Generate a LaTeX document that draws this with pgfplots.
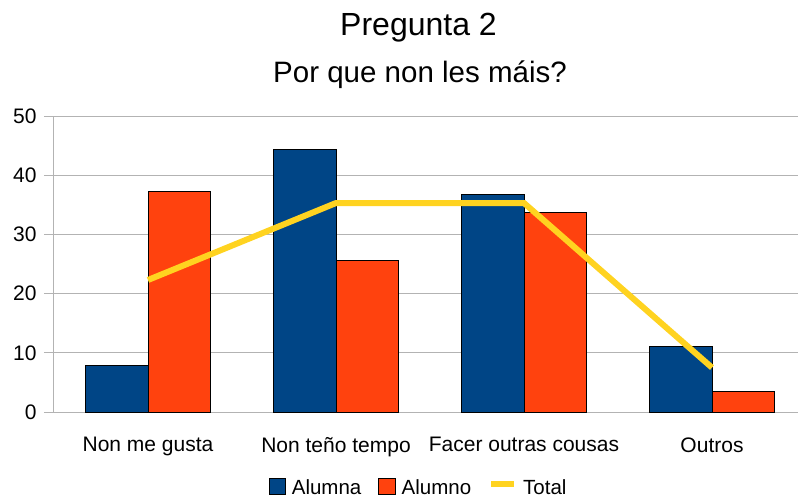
\documentclass[border=0pt]{standalone}
\usepackage{fontspec}
\setmainfont{Liberation Sans}
\usepackage{pgfplots}
\pgfplotsset{compat=1.18}

\definecolor{alumna}{HTML}{004586}
\definecolor{alumno}{HTML}{FF420E}
\definecolor{total}{HTML}{FFD320}
\definecolor{gridgray}{HTML}{B3B3B3}

\begin{document}
\begin{tikzpicture}
% page size: 798 x 499, axis box from (54,116) to (806,412) px, cut at 798
\useasboundingbox (-54pt,-87pt) rectangle (744pt,412pt);
\begin{axis}[
    at={(0,0)}, anchor=south west,
    scale only axis,
    width=752pt, height=296pt,
    xmin=-0.5, xmax=3.5,
    ymin=0, ymax=50,
    ytick={0,10,20,30,40,50},
    xtick={0,1,2,3},
    xticklabels={Non me gusta, Non teño tempo, Facer outras cousas, Outros},
    extra x ticks={-0.5,0.5,1.5,2.5,3.5},
    extra x tick labels={},
    extra x tick style={major tick length=11pt, tick style={gridgray, line width=1pt}, grid=none},
    x tick style={draw=none},
    y tick style={gridgray, line width=1pt},
    tick align=outside,
    major tick length=10pt,
    axis x line*=bottom,
    axis y line*=left,
    axis line style={gridgray, line width=1pt, -},
    ymajorgrids,
    grid style={gridgray, line width=1pt},
    tick label style={font=\fontsize{21}{25}\selectfont, black},
    xticklabel style={yshift=-12pt},
    yticklabel style={xshift=-4pt},
    /pgf/number format/assume math mode=true,
    legend columns=3,
    legend style={draw=none, fill=none, at={(axis description cs:0.4834,-0.253)}, anchor=center,
        font=\fontsize{20.5}{24}\selectfont,
        nodes={inner sep=0pt},
        /tikz/every odd column/.append style={column sep=6pt},
        /tikz/every even column/.append style={column sep=17pt}},
]
\addplot[ybar, bar width=0.3333, bar shift=-0.16667, fill=alumna, draw=black, line width=0.8pt,
    legend image code/.code={\draw[fill=alumna, draw=black, line width=0.8pt] (0pt,-6pt) rectangle (16.5pt,10pt);}]
    coordinates {(0,7.8) (1,44.4) (2,36.7) (3,11.1)};
\addlegendentry{Alumna}
\addplot[ybar, bar width=0.3333, bar shift=0.16667, fill=alumno, draw=black, line width=0.8pt,
    legend image code/.code={\draw[fill=alumno, draw=black, line width=0.8pt] (0pt,-6pt) rectangle (16.5pt,10pt);}]
    coordinates {(0,37.3) (1,25.6) (2,33.7) (3,3.5)};
\addlegendentry{Alumno}
\addplot[sharp plot, no marks, color=total, line width=6pt,
    legend image code/.code={\draw[total, line width=6pt] (0pt,4pt) -- (23pt,4pt);}]
    coordinates {(0,22.3) (1,35.3) (2,35.3) (3,7.5)};
\addlegendentry{Total}
\end{axis}
\node[font=\fontsize{32}{38}\selectfont] at (364.5pt,384pt) {Pregunta 2};
\node[font=\fontsize{29.5}{35}\selectfont] at (366pt,337pt) {Por que non les máis?};
\end{tikzpicture}
\end{document}
